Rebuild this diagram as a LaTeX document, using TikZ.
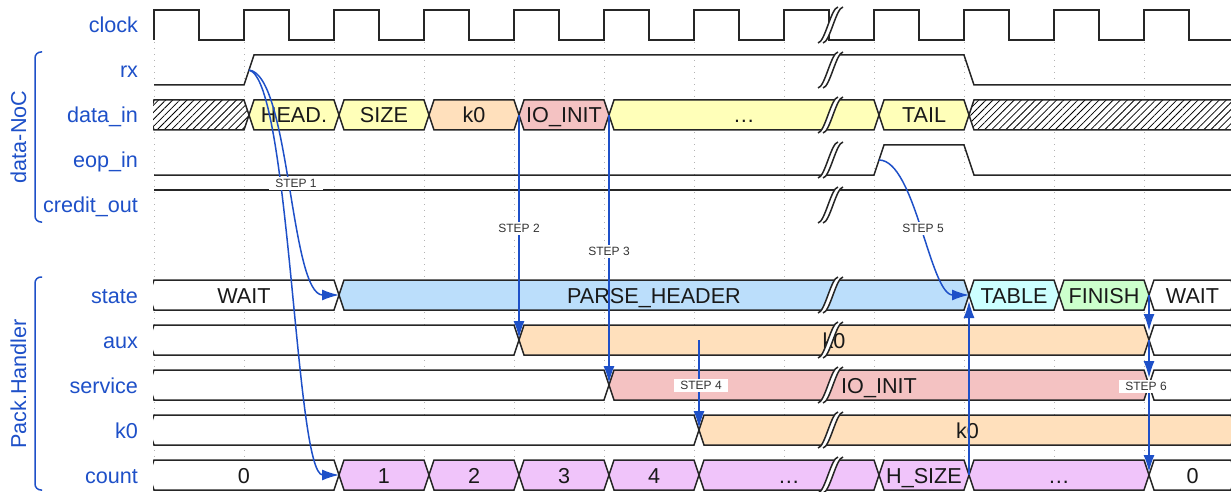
\documentclass[tikz,border=0pt]{standalone}
\usepackage{fontspec}
\setmainfont{Liberation Sans}
\usepackage{xcolor}
\usetikzlibrary{arrows.meta,positioning,patterns.meta}

\definecolor{sigblue}{RGB}{30,80,200}
\definecolor{dat}{RGB}{255,255,185}
\definecolor{pch}{RGB}{255,224,188}
\definecolor{ioi}{RGB}{244,194,194}
\definecolor{phd}{RGB}{187,222,251}
\definecolor{tbl}{RGB}{204,255,255}
\definecolor{fin}{RGB}{204,255,204}
\definecolor{cnt}{RGB}{240,196,250}

\tikzset{brk/.pic={
    \fill[white] (-11,18) .. controls (-4,17) and (2,-17) .. (9,-18) -- (14,-18) .. controls (7,-17) and (1,17) .. (-6,18) -- cycle;
    \draw[wave] (-11,18) .. controls (-4,17) and (2,-17) .. (9,-18);
    \draw[wave] (-6,18) .. controls (1,17) and (7,-17) .. (14,-18);
}}

\begin{document}
\begin{tikzpicture}[x=0.5pt, y=-0.5pt, node distance=7.5pt,
    sig/.style={text width=58pt, align=right, inner sep=0pt, outer sep=0pt, minimum height=15pt, text height=9.5pt, text depth=1.5pt, text=sigblue, font=\fontsize{10.8}{13}\selectfont},
    grp/.style={rotate=90, inner sep=0pt, text height=9.5pt, text depth=1.5pt, text=sigblue, font=\fontsize{10.8}{13}\selectfont},
    val/.style={inner sep=0pt, text height=9.5pt, text depth=1.5pt, text=black!90, font=\fontsize{10.8}{13}\selectfont},
    tag/.style={fill=white, inner xsep=3pt, inner ysep=1pt, text height=4.3pt, text depth=0.2pt, text=black!80, font=\fontsize{6}{7}\selectfont},
    wave/.style={draw=black!85, line width=0.75pt},
    bus/.style={draw=black!85, line width=0.75pt},
    grid/.style={draw=gray!60, line width=0.5pt, dash pattern=on 0.6pt off 2.4pt},
    brace/.style={draw=sigblue, line width=0.75pt, rounded corners=3pt},
    flow/.style={draw=sigblue, line width=0.75pt, -{Latex[length=8.5pt,width=5.5pt]}}]

    \useasboundingbox (0,0) rectangle (1231,492);

    % signal names
    \node[sig] (clock) at (80,25) {clock};
    \node[sig, below=of clock] (rx) {rx};
    \node[sig, below=of rx] (datain) {data\_in};
    \node[sig, below=of datain] (eopin) {eop\_in};
    \node[sig, below=of eopin] (creditout) {credit\_out};
    \node[sig, below=30pt of creditout] (state) {state};
    \node[sig, below=of state] (aux) {aux};
    \node[sig, below=of aux] (service) {service};
    \node[sig, below=of service] (kzero) {k0};
    \node[sig, below=of kzero] (count) {count};

    % groups
    \draw[brace] (42,52) -- (35,52) -- (35,222) -- (42,222);
    \draw[brace] (42,277) -- (35,277) -- (35,490) -- (42,490);
    \node[grp] (noc) at (18,137) {data-NoC};
    \node[grp] (handler) at (18,384) {Pack.Handler};

    % clock edges
    \foreach \k in {0,...,12}
        \draw[grid] (154+90*\k,42) -- (154+90*\k,492);

    \begin{scope}
        \clip (153,0) rectangle (1231,492);

        \draw[wave] (154,40) \foreach \k in {0,...,12} { -- ++(0,-30) -- ++(45,0) -- ++(0,30) -- ++(45,0) };
        \draw[wave] (154,85) -- (244,85) -- (254,55) -- (964,55) -- (974,85) -- (1240,85);
        \draw[wave] (154,175) -- (874,175) -- (884,145) -- (964,145) -- (974,175) -- (1240,175);
        \draw[wave] (154,190) -- (1240,190);

        % data_in
        \draw[bus, preaction={fill=white}, pattern={Lines[angle=45,distance=2.5pt,line width=0.4pt]}]
            (149,115) -- (154,100) -- (244,100) -- (249,115) -- (244,130) -- (154,130) -- cycle;
        \draw[bus, preaction={fill=white}, pattern={Lines[angle=45,distance=2.5pt,line width=0.4pt]}]
            (969,115) -- (974,100) -- (1240,100) -- (1240,130) -- (974,130) -- cycle;
        \foreach \xa/\xb/\col/\txt [count=\i] in {244/334/dat/HEAD., 334/424/dat/SIZE, 424/514/pch/k0,
                514/604/ioi/IO\_INIT, 604/874/dat/\ldots, 874/964/dat/TAIL} {
            \draw[bus, fill=\col] (\xa+5,115) -- (\xa+10,100) -- (\xb,100) -- (\xb+5,115) -- (\xb,130) -- (\xa+10,130) -- cycle;
            \node[val] (din\i) at ({(\xa+\xb)/2+5},115) {\txt};
        }

        % state
        \foreach \xa/\xb/\col/\txt [count=\i] in {144/334/white/WAIT, 334/964/phd/PARSE\_HEADER,
                964/1054/tbl/TABLE, 1054/1144/fin/FINISH, 1144/1231/white/WAIT} {
            \draw[bus, fill=\col] (\xa+5,295) -- (\xa+10,280) -- (\xb,280) -- (\xb+5,295) -- (\xb,310) -- (\xa+10,310) -- cycle;
            \node[val] (st\i) at ({(\xa+\xb)/2+5},295) {\txt};
        }

        % aux
        \foreach \xa/\xb/\col/\txt [count=\i] in {144/514/white/{}, 514/1144/pch/k0, 1144/1231/white/{}} {
            \draw[bus, fill=\col] (\xa+5,340) -- (\xa+10,325) -- (\xb,325) -- (\xb+5,340) -- (\xb,355) -- (\xa+10,355) -- cycle;
            \node[val] (ax\i) at ({(\xa+\xb)/2+5},340) {\txt};
        }

        % service
        \foreach \xa/\xb/\col/\txt [count=\i] in {144/604/white/{}, 604/1144/ioi/IO\_INIT, 1144/1231/white/{}} {
            \draw[bus, fill=\col] (\xa+5,385) -- (\xa+10,370) -- (\xb,370) -- (\xb+5,385) -- (\xb,400) -- (\xa+10,400) -- cycle;
            \node[val] (sv\i) at ({(\xa+\xb)/2+5},385) {\txt};
        }

        % k0
        \foreach \xa/\xb/\col/\txt [count=\i] in {144/694/white/{}, 694/1231/pch/k0} {
            \draw[bus, fill=\col] (\xa+5,430) -- (\xa+10,415) -- (\xb,415) -- (\xb+5,430) -- (\xb,445) -- (\xa+10,445) -- cycle;
            \node[val] (kz\i) at ({(\xa+\xb)/2+5},430) {\txt};
        }

        % count
        \foreach \xa/\xb/\col/\txt [count=\i] in {144/334/white/0, 334/424/cnt/1, 424/514/cnt/2, 514/604/cnt/3,
                604/694/cnt/4, 694/874/cnt/\ldots, 874/964/cnt/H\_SIZE, 964/1144/cnt/\ldots, 1144/1231/white/0} {
            \draw[bus, fill=\col] (\xa+5,475) -- (\xa+10,460) -- (\xb,460) -- (\xb+5,475) -- (\xb,490) -- (\xa+10,490) -- cycle;
            \node[val] (ct\i) at ({(\xa+\xb)/2+5},475) {\txt};
        }
    \end{scope}

    % time break
    \foreach \y in {25,70,115,160,205,295,340,385,430,475}
        \pic at (829,\y) {brk};

    % steps
    \coordinate (rxup) at (249,70);
    \coordinate (eopup) at (879,160);
    \coordinate (dA) at (519,115);
    \coordinate (dB) at (609,115);
    \coordinate (sA) at (339,295);
    \coordinate (sB) at (969,295);
    \coordinate (sC) at (1149,295);
    \coordinate (aA) at (519,340);
    \coordinate (aB) at (699,340);
    \coordinate (aC) at (1149,340);
    \coordinate (vA) at (609,385);
    \coordinate (vC) at (1149,385);
    \coordinate (kA) at (699,430);
    \coordinate (cA) at (339,475);
    \coordinate (cB) at (969,475);
    \coordinate (cC) at (1149,475);

    \draw[flow] (rxup) .. controls (290,75) and (290,295) .. (sA);
    \draw[flow] (rxup) .. controls (290,80) and (295,475) .. (cA);
    \draw[flow, shorten >=1pt] (dA) -- (aA);
    \draw[flow, shorten >=1pt] (dB) -- (vA);
    \draw[flow, shorten >=1pt] (aB) -- (kA);
    \draw[flow] (eopup) .. controls (915,160) and (930,295) .. (sB);
    \draw[flow, shorten >=3pt] (cB) -- (sB);
    \draw[flow, shorten >=4.5pt] (sC) -- (aC);
    \draw[flow, shorten >=3.5pt] (aC) -- (vC);
    \draw[flow, shorten >=1.5pt] (vC) -- (cC);

    \node[tag] (s1) at (296,183) {STEP 1};
    \node[tag] (s2) at (519,228) {STEP 2};
    \node[tag] (s3) at (609,251) {STEP 3};
    \node[tag] (s4) at (701,385) {STEP 4};
    \node[tag] (s5) at (923,228) {STEP 5};
    \node[tag] (s6) at (1146,386) {STEP 6};
\end{tikzpicture}
\end{document}
